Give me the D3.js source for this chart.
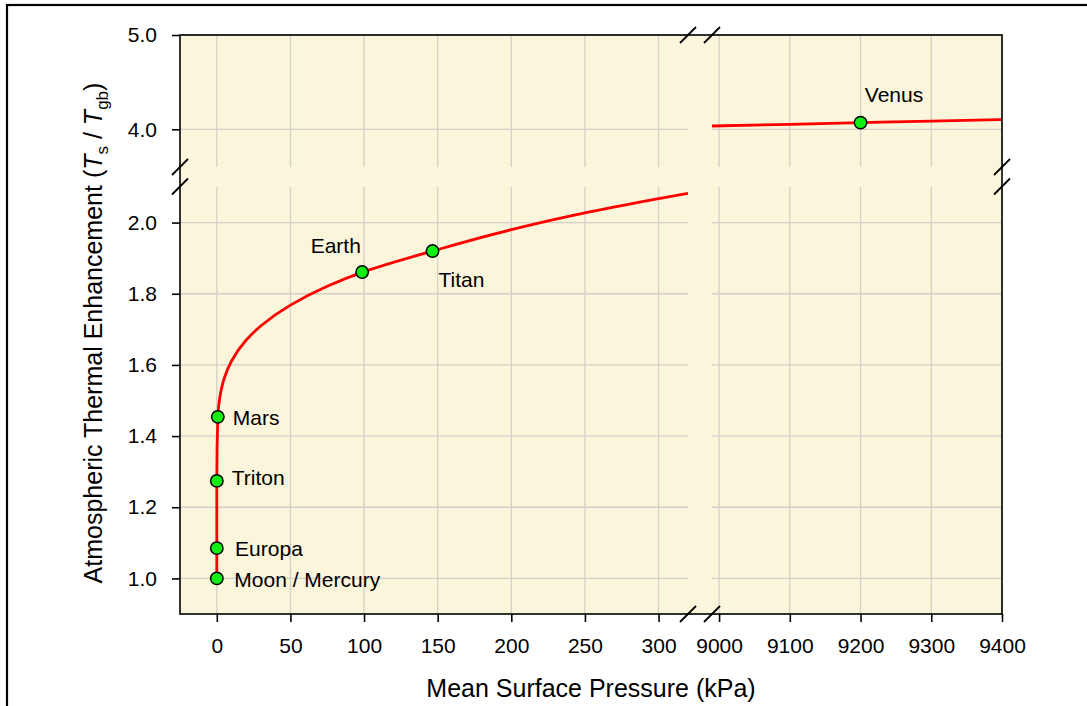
<!DOCTYPE html>
<html>
<head>
<meta charset="utf-8">
<script src="https://cdn.jsdelivr.net/npm/d3@7"></script>
<style>
  html, body { margin: 0; padding: 0; background: #ffffff; }
  svg { display: block; font-family: "Liberation Sans", Arial, sans-serif; }
</style>
</head>
<body>
<svg id="chart" width="1087" height="706"></svg>
<script>
// ---------------- data ----------------
const xLeftTicks  = [0, 50, 100, 150, 200, 250, 300];
const xRightTicks = [9000, 9100, 9200, 9300, 9400];
const yLowTicks   = [1.0, 1.2, 1.4, 1.6, 1.8, 2.0];
const yHighTicks  = [4.0, 5.0];

const planetNames = ["Moon / Mercury", "Europa", "Triton", "Mars", "Earth", "Titan", "Venus"];
const planetP     = [0, 1e-10, 0.0014, 0.69, 98.7, 146.5, 9200];
const planetATE   = [1.000, 1.085, 1.274, 1.454, 1.861, 1.920, 4.071];

// curve (low-pressure part)
const curveP   = [0, 1e-10, 0.0014, 0.69, 2, 5, 10, 20, 30, 50, 75, 100, 150, 200, 250, 300, 320];
const curveATE = [1.000, 1.085, 1.274, 1.454, 1.508, 1.562, 1.611, 1.670, 1.710, 1.768, 1.821, 1.862, 1.924, 1.980, 2.027, 2.067, 2.082];
// curve (Venus part)
const venusCurveP   = [8990, 9100, 9200, 9300, 9400];
const venusCurveATE = [4.035, 4.053, 4.070, 4.087, 4.103];

// ---------------- layout ----------------
const svg = d3.select("#chart");
const L = 180, R = 1002, T = 35, B = 614;
const xBreakL = 688, xBreakR = 712;
const yBreakT = 167, yBreakB = 187;

const xL = d3.scaleLinear().domain([-25, 320]).range([L, xBreakL]);
const xR = d3.scaleLinear().domain([8990, 9400]).range([xBreakR, R]);
const yLo = d3.scaleLinear().domain([0.9, 2.1]).range([B, yBreakB]);
const yHi = d3.scaleLinear().domain([3.6, 5.0]).range([yBreakT, T]);

const bg = "#FBF5DB", grid = "#D2D0C8";
const tickFont = 21, labelFont = 21, titleFont = 25;

// outer figure border
svg.append("rect").attr("x", 7).attr("y", 5).attr("width", 1100).attr("height", 720)
  .attr("fill", "none").attr("stroke", "#000").attr("stroke-width", 2.2);

// plot background
svg.append("rect").attr("x", L).attr("y", T).attr("width", R - L).attr("height", B - T).attr("fill", bg);

// quadrant definitions
const quads = [
  {x: xL, y: yHi, xt: xLeftTicks,  yt: yHighTicks, x0: L,       x1: xBreakL, y0: T,       y1: yBreakT, id: "qLH"},
  {x: xL, y: yLo, xt: xLeftTicks,  yt: yLowTicks,  x0: L,       x1: xBreakL, y0: yBreakB, y1: B,       id: "qLL"},
  {x: xR, y: yHi, xt: xRightTicks, yt: yHighTicks, x0: xBreakR, x1: R,       y0: T,       y1: yBreakT, id: "qRH"},
  {x: xR, y: yLo, xt: xRightTicks, yt: yLowTicks,  x0: xBreakR, x1: R,       y0: yBreakB, y1: B,       id: "qRL"}
];

const defs = svg.append("defs");
quads.forEach(q => {
  defs.append("clipPath").attr("id", q.id).append("rect")
    .attr("x", q.x0).attr("y", q.y0 - 2).attr("width", q.x1 - q.x0).attr("height", q.y1 - q.y0 + 4);
});

// gridlines
const gGrid = svg.append("g").attr("stroke", grid).attr("stroke-width", 1.3);
quads.forEach(q => {
  gGrid.selectAll(null).data(q.xt).enter().append("line")
    .attr("x1", d => q.x(d)).attr("x2", d => q.x(d)).attr("y1", q.y0).attr("y2", q.y1);
  gGrid.selectAll(null).data(q.yt).enter().append("line")
    .attr("x1", q.x0).attr("x2", q.x1).attr("y1", d => q.y(d)).attr("y2", d => q.y(d));
});

// curves
const lineLo = d3.line().x(d => xL(d[0])).y(d => yLo(d[1])).curve(d3.curveMonotoneY);
svg.append("path").datum(d3.zip(curveP, curveATE))
  .attr("clip-path", "url(#qLL)")
  .attr("d", lineLo).attr("fill", "none").attr("stroke", "#FF0000").attr("stroke-width", 2.8);

const lineHi = d3.line().x(d => xR(d[0])).y(d => yHi(d[1])).curve(d3.curveMonotoneX);
svg.append("path").datum(d3.zip(venusCurveP, venusCurveATE))
  .attr("clip-path", "url(#qRH)")
  .attr("d", lineHi).attr("fill", "none").attr("stroke", "#FF0000").attr("stroke-width", 2.8);

// frame
const frame = svg.append("g").attr("stroke", "#000").attr("stroke-width", 1.6).attr("fill", "none");
frame.append("rect").attr("x", L).attr("y", T).attr("width", R - L).attr("height", B - T);

// axes
function styleAxis(g) {
  g.select(".domain").remove();
  g.selectAll(".tick line").attr("stroke", "#000").attr("stroke-width", 1.6);
  g.selectAll(".tick text").attr("fill", "#000").attr("font-size", tickFont)
    .attr("font-family", "'Liberation Sans', Arial, sans-serif");
}
svg.append("g").attr("transform", `translate(0,${B})`)
  .call(d3.axisBottom(xL).tickValues(xLeftTicks).tickSize(8).tickPadding(16).tickFormat(d3.format("d")))
  .call(styleAxis);
svg.append("g").attr("transform", `translate(0,${B})`)
  .call(d3.axisBottom(xR).tickValues(xRightTicks).tickSize(8).tickPadding(16).tickFormat(d3.format("d")))
  .call(styleAxis);
svg.append("g").attr("transform", `translate(${L},0)`)
  .call(d3.axisLeft(yLo).tickValues(yLowTicks).tickSize(8).tickPadding(15).tickFormat(d3.format(".1f")))
  .call(styleAxis);
svg.append("g").attr("transform", `translate(${L},0)`)
  .call(d3.axisLeft(yHi).tickValues(yHighTicks).tickSize(8).tickPadding(15).tickFormat(d3.format(".1f")))
  .call(styleAxis);

// break marks
const breaks = [
  [xBreakL, T], [xBreakR, T], [xBreakL, B], [xBreakR, B],
  [L, yBreakT], [L, yBreakB - 0.5], [R, yBreakT], [R, yBreakB - 0.5]
];
svg.append("g").selectAll("line").data(breaks).enter().append("line")
  .attr("x1", d => d[0] - 8).attr("y1", d => d[1] + 8)
  .attr("x2", d => d[0] + 8).attr("y2", d => d[1] - 8)
  .attr("stroke", "#000").attr("stroke-width", 1.8);

// points
const planets = planetNames.map((n, i) => ({name: n, p: planetP[i], v: planetATE[i]}));
const px = d => d.p > 1000 ? xR(d.p) : xL(d.p);
const py = d => d.v > 3 ? yHi(d.v) : yLo(d.v);
svg.append("g").selectAll("circle").data(planets).enter().append("circle")
  .attr("cx", px).attr("cy", py).attr("r", 6.2)
  .attr("fill", "#11EE11").attr("stroke", "#000").attr("stroke-width", 1.5);

// labels (placement offsets only)
const labelPlacement = {
  "Moon / Mercury": {dx: 17.5, dy: 8.3, anchor: "start"},
  "Europa":         {dx: 18.3, dy: 7.7, anchor: "start"},
  "Triton":         {dx: 15,   dy: 3.8, anchor: "start"},
  "Mars":           {dx: 15,   dy: 8.3, anchor: "start"},
  "Earth":          {dx: -1.3, dy: -19.4, anchor: "end"},
  "Titan":          {dx: 6,    dy: 35.5, anchor: "start"},
  "Venus":          {dx: 4.3,  dy: -20.4, anchor: "start"}
};
svg.append("g").selectAll("text").data(planets).enter().append("text")
  .attr("x", d => px(d) + labelPlacement[d.name].dx)
  .attr("y", d => py(d) + labelPlacement[d.name].dy)
  .attr("text-anchor", d => labelPlacement[d.name].anchor)
  .attr("font-size", labelFont).attr("fill", "#000")
  .text(d => d.name);

// axis titles
svg.append("text").attr("x", (L + R) / 2).attr("y", 697).attr("text-anchor", "middle")
  .attr("font-size", titleFont).attr("fill", "#000").text("Mean Surface Pressure (kPa)");

const yt = svg.append("text").attr("transform", "translate(102,333) rotate(-90)")
  .attr("text-anchor", "middle").attr("font-size", titleFont).attr("fill", "#000");
yt.append("tspan").text("Atmospheric Thermal Enhancement (");
yt.append("tspan").attr("font-style", "italic").text("T");
yt.append("tspan").attr("font-size", 17).attr("dy", 6).text("s");
yt.append("tspan").attr("dy", -6).text(" / ");
yt.append("tspan").attr("font-style", "italic").text("T");
yt.append("tspan").attr("font-size", 17).attr("dy", 6).text("gb");
yt.append("tspan").attr("dy", -6).text(")");
</script>
</body>
</html>
